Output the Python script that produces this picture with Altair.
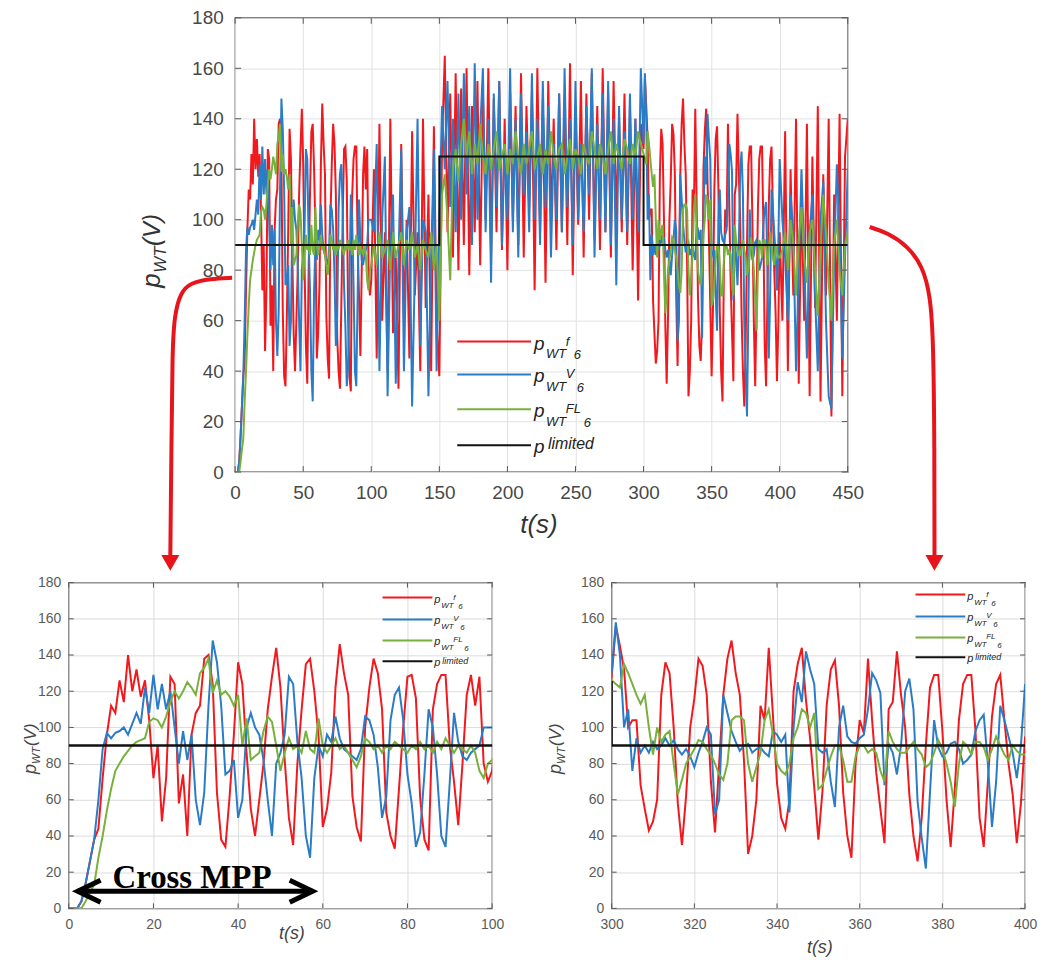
import altair as alt
import pandas as pd

# ---------------- data ----------------
t_seg1 = list(range(0, 101))
red_seg1 = [0, 0, 0, 4, 14, 26, 38, 44, 72, 96,
            112, 108, 126, 114, 140, 120, 132, 117, 126, 104,
            72, 90, 48, 72, 128, 124, 58, 74, 40, 96,
            108, 112, 138, 140, 124, 64, 38, 34, 62, 96,
            136, 124, 86, 55, 40, 60, 80, 110, 128, 144,
            122, 82, 50, 35, 80, 110, 135, 138, 120, 95,
            45, 55, 75, 122, 146, 130, 118, 62, 45, 37,
            100, 122, 138, 130, 110, 53, 40, 33, 66, 100,
            128, 129, 116, 61, 38, 32, 110, 124, 129, 129,
            90, 70, 46, 80, 118, 129, 112, 128, 80, 70,
            76]
blue_seg1 = [0, 0, 0, 4, 14, 26, 38, 60, 88, 97,
             94, 97, 98, 100, 96, 102, 108, 102, 122, 108,
             129, 110, 124, 110, 120, 100, 80, 98, 82, 96,
             60, 46, 64, 112, 148, 136, 112, 74, 76, 82,
             50, 60, 100, 108, 100, 96, 82, 60, 40, 80,
             86, 96, 128, 124, 92, 72, 40, 28, 72, 90,
             84, 96, 92, 106, 94, 88, 86, 84, 82, 88,
             106, 104, 96, 78, 50, 62, 104, 118, 122, 104,
             74, 58, 34, 42, 74, 110, 100, 74, 40, 34,
             70, 108, 92, 84, 82, 86, 88, 90, 100, 100,
             100]
green_seg1 = [0, 0, 0, 0, 4, 9, 13, 28, 40, 54,
              66, 76, 80, 84, 87, 90, 92, 93, 94, 103,
              105, 104, 100, 106, 114, 120, 116, 120, 125, 122,
              118, 130, 133, 138, 119, 126, 118, 120, 117, 112,
              118, 90, 105, 82, 84, 86, 98, 106, 103, 90,
              76, 86, 94, 88, 90, 86, 98, 88, 86, 105,
              90, 86, 90, 94, 88, 90, 86, 82, 78, 84,
              94, 92, 88, 90, 86, 90, 88, 92, 90, 88,
              86, 90, 88, 92, 88, 90, 86, 92, 88, 94,
              90, 86, 90, 88, 86, 90, 86, 76, 72, 80,
              82]

t_seg2 = list(range(102, 299, 2))
red_seg2 = [120, 45, 138, 60, 95, 40, 140, 55, 85, 33,
            130, 60, 100, 45, 135, 70, 95, 40, 140, 65,
            110, 40, 137, 60,
            38, 130, 165, 95, 150, 85, 158, 80, 152, 90,
            160, 78, 145, 95, 155, 82, 150, 100, 160, 85,
            148, 95, 155, 88, 140, 80, 150, 100, 145, 90,
            158, 85, 145, 105, 150, 72, 160, 95, 148, 75,
            155, 100, 140, 88, 150, 95, 148, 90, 162, 78,
            145, 98, 155, 85, 150, 100, 158, 92, 145, 88,
            160, 95, 150, 85, 155, 100, 140, 95, 150, 90,
            145, 80, 140, 68, 138]
blue_seg2 = [95, 130, 40, 100, 125, 30, 90, 110, 35, 85,
             128, 40, 95, 105, 26, 80, 140, 50, 100, 95,
             30, 85, 128, 40,
             100, 145, 120, 155, 105, 140, 95, 150, 100, 158,
             110, 145, 90, 162, 100, 135, 160, 95, 140, 75,
             150, 105, 155, 90, 130, 100, 160, 95, 140, 85,
             150, 110, 135, 95, 158, 100, 140, 90, 155, 105,
             145, 85, 130, 100, 150, 95, 160, 105, 140, 90,
             155, 100, 130, 95, 145, 110, 160, 85, 138, 100,
             150, 95, 155, 90, 140, 74, 145, 100, 135, 95,
             150, 100, 140, 95, 160]
green_seg2 = [90, 82, 95, 85, 88, 92, 80, 95, 85, 90,
              95, 82, 92, 88, 95, 85, 90, 80, 92, 88,
              85, 95, 80, 90,
              60, 110, 118, 100, 76, 120, 128, 115, 130, 140,
              125, 135, 118, 130, 122, 138, 125, 118, 130, 120,
              128, 135, 120, 125, 130, 118, 128, 122, 135, 125,
              118, 130, 122, 128, 135, 120, 125, 130, 118, 128,
              122, 135, 125, 120, 128, 130, 118, 125, 132, 120,
              128, 125, 118, 130, 125, 122, 135, 128, 120, 130,
              125, 118, 128, 135, 122, 130, 125, 120, 132, 128,
              122, 130, 125, 135, 130]

t_seg3 = list(range(300, 401))
red_seg3 = [128, 156, 145, 132, 100, 104, 104, 68, 55, 43,
            48, 60, 118, 136, 130, 100, 58, 35, 62, 100,
            116, 138, 134, 118, 70, 42, 80, 118, 138, 148,
            130, 118, 82, 30, 40, 60, 112, 104, 144, 107,
            69, 50, 44, 60, 120, 135, 144, 115, 94, 67,
            38, 65, 112, 132, 137, 112, 64, 40, 28, 80,
            104, 97, 138, 104, 75, 55, 36, 110, 114, 142,
            118, 100, 63, 40, 26, 50, 90, 122, 129, 129,
            98, 60, 34, 66, 104, 124, 129, 129, 98, 50,
            34, 70, 106, 124, 129, 104, 80, 63, 36, 58,
            95]
blue_seg3 = [130, 158, 140, 100, 110, 76, 94, 86, 90, 86,
             92, 88, 90, 94, 90, 93, 88, 85, 88, 84,
             78, 86, 92, 100, 96, 52, 60, 118, 108, 98,
             92, 87, 90, 91, 86, 88, 89, 86, 84, 98,
             96, 92, 96, 53, 100, 125, 114, 142, 132, 124,
             88, 86, 88, 70, 56, 100, 112, 95, 92, 91,
             94, 96, 110, 130, 126, 119, 68, 91, 86, 74,
             90, 120, 127, 110, 59, 39, 22, 64, 104, 89,
             84, 86, 91, 92, 88, 80, 82, 85, 98, 104,
             107, 80, 45, 70, 112, 104, 95, 86, 72, 90,
             124]
green_seg3 = [126, 124, 122, 135, 130, 124, 118, 113, 118, 100,
              85, 100, 92, 96, 98, 80, 63, 71, 80, 84,
              88, 93, 92, 88, 85, 80, 74, 71, 80, 104,
              106, 106, 104, 80, 70, 78, 86, 104, 110, 96,
              80, 76, 74, 80, 94, 100, 110, 108, 100, 108,
              66, 68, 76, 84, 90, 90, 82, 70, 70, 84,
              90, 90, 86, 88, 86, 76, 70, 98, 92, 88,
              86, 86, 89, 92, 88, 85, 78, 80, 86, 93,
              88, 80, 70, 56, 80, 92, 90, 85, 92, 92,
              89, 82, 88, 95, 90, 85, 82, 90, 87, 85,
              85]

t_seg4 = list(range(402, 451, 2))
red_seg4 = [60, 135, 40, 120, 70, 140, 35, 110, 60, 138,
            30, 125, 65, 145, 28, 118, 70, 140, 22, 110,
            60, 142, 30, 125, 140]
blue_seg4 = [100, 85, 60, 110, 95, 40, 80, 120, 85, 45,
             95, 110, 70, 40, 100, 115, 60, 30, 25, 85,
             122, 95, 45, 85, 120]
green_seg4 = [88, 95, 80, 100, 90, 70, 92, 105, 85, 75,
              95, 100, 80, 62, 88, 110, 95, 75, 60, 90,
              100, 80, 70, 90, 95]

limit_t = [0, 150, 150, 300, 300, 450]
limit_v = [90, 90, 125, 125, 90, 90]

y_ticks = [0, 20, 40, 60, 80, 100, 120, 140, 160, 180]
x_ticks_top = [0, 50, 100, 150, 200, 250, 300, 350, 400, 450]
x_ticks_left = [0, 20, 40, 60, 80, 100]
x_ticks_right = [300, 320, 340, 360, 380, 400]

legend_sups = ["f", "V", "FL"]

# annotation paths, in the top panel's data units
arrow_left_t = [-2.2, -18.3, -32.9, -40.2, -44.6, -46.1, -46.8, -47.6]
arrow_left_v = [77.0, 76.6, 75.0, 71.1, 62.0, 48.2, 8.7, -33.0]
arrow_right_t = [466.1, 479.3, 493.9, 504.9, 510.7, 512.9, 513.7, 513.7]
arrow_right_v = [97.1, 94.8, 89.6, 81.7, 69.9, 52.1, 8.7, -33.0]
arrow_head_t = [-47.6, 513.7]
arrow_head_v = [-36.0, -36.0]

# "Cross MPP" annotation, in the bottom-left panel's data units
mpp_t = [2.1, 57.6]
mpp_v = [9.4, 9.4]
mpp_text_t = [29.1]
mpp_text_v = [11.0]
mpp_label = "Cross MPP"

# ---------------- build tables ----------------
rows = []
for ts, rs, bs, gs in [(t_seg1, red_seg1, blue_seg1, green_seg1),
                       (t_seg2, red_seg2, blue_seg2, green_seg2),
                       (t_seg3, red_seg3, blue_seg3, green_seg3),
                       (t_seg4, red_seg4, blue_seg4, green_seg4)]:
    for t, r, b, g in zip(ts, rs, bs, gs):
        rows.append((t, r, b, g))
df = pd.DataFrame(rows, columns=["t", "red", "blue", "green"])
lim = pd.DataFrame({"t": limit_t, "v": limit_v, "i": list(range(len(limit_t)))})
ONE = pd.DataFrame({"k": [0]})

FONT = "Liberation Sans"
RED = "#f2191e"
BLUE = "#2b7cc6"
GREEN = "#78b03c"
BLACK = "#111111"
ARROW = "#e8141b"


def txt(x, y, s, size, dx=0, dy=0, angle=0, align="left", baseline="alphabetic",
        color="#222222", style="italic", font=FONT, weight="normal"):
    kw = dict(text=s, fontSize=size, dx=dx, dy=dy, align=align, baseline=baseline,
              color=color, font=font, fontStyle=style, fontWeight=weight)
    if angle:
        kw["angle"] = angle
    return alt.Chart(ONE).mark_text(**kw).encode(x=alt.value(x), y=alt.value(y))


def panel(x_dom, x_ticks, st, extras=None):
    w, h = st["w"], st["h"]

    def X(f):
        return alt.X(f + ":Q", scale=alt.Scale(domain=x_dom, nice=False, zero=False),
                     axis=alt.Axis(values=x_ticks, title=None, grid=True, gridColor=st["grid"],
                                   gridWidth=1, ticks=False, domain=False, labelFont=FONT,
                                   labelFontSize=st["lab"], labelColor=st["labc"],
                                   labelPadding=st["xpad"], labelFlush=False, format="d"))

    def Y(f):
        return alt.Y(f + ":Q", scale=alt.Scale(domain=[0, 180], nice=False, zero=False),
                     axis=alt.Axis(values=y_ticks, title=None, grid=True, gridColor=st["grid"],
                                   gridWidth=1, ticks=False, domain=False, labelFont=FONT,
                                   labelFontSize=st["lab"], labelColor=st["labc"],
                                   labelPadding=st["ypad"], labelFlush=False, format="d"))

    lo, hi = x_dom
    base = df[(df.t >= lo - 2) & (df.t <= hi + 2)]
    layers = []
    for col, colr in [("red", RED), ("blue", BLUE), ("green", GREEN)]:
        layers.append(alt.Chart(base).mark_line(color=colr, strokeWidth=st["sw"], clip=True)
                      .encode(x=X("t"), y=Y(col)))
    layers.append(alt.Chart(lim).mark_line(color=BLACK, strokeWidth=st["lw"], clip=True)
                  .encode(x=X("t"), y=Y("v"), order="i:Q"))
    # inward ticks on all four sides
    tl = st["tick"]
    xt = pd.DataFrame({"xt": x_ticks})
    yt = pd.DataFrame({"yt": y_ticks})
    layers.append(alt.Chart(xt).mark_rule(color="#555555", strokeWidth=1)
                  .encode(x=X("xt"), y=alt.value(h), y2=alt.value(h - tl)))
    layers.append(alt.Chart(xt).mark_rule(color="#555555", strokeWidth=1)
                  .encode(x=X("xt"), y=alt.value(0), y2=alt.value(tl)))
    layers.append(alt.Chart(yt).mark_rule(color="#555555", strokeWidth=1)
                  .encode(y=Y("yt"), x=alt.value(0), x2=alt.value(tl)))
    layers.append(alt.Chart(yt).mark_rule(color="#555555", strokeWidth=1)
                  .encode(y=Y("yt"), x=alt.value(w), x2=alt.value(w - tl)))

    # legend
    L = st["leg"]
    cols = [RED, BLUE, GREEN, BLACK]
    for i, y in enumerate(L["ys"]):
        layers.append(alt.Chart(ONE).mark_rule(color=cols[i], strokeWidth=L["lw"])
                      .encode(x=alt.value(L["x0"]), x2=alt.value(L["x1"]), y=alt.value(y)))
        xtx = L["xt"]
        layers.append(txt(xtx, y, "p", L["main"], dy=L["p_dy"]))
        if i < 3:
            layers.append(txt(xtx, y, "WT", L["sub"], dx=L["wt_dx"], dy=L["wt_dy"]))
            layers.append(txt(xtx, y, legend_sups[i], L["sub"], dx=L["sup_dx"], dy=L["sup_dy"]))
            layers.append(txt(xtx, y, "6", L["sub"], dx=L["six_dx"][i], dy=L["six_dy"]))
        else:
            layers.append(txt(xtx, y, "limited", L["lim_size"], dx=L["lim_dx"], dy=L["lim_dy"]))

    # axis titles
    T = st["ttl"]
    ax, ay = T["y_anchor"]
    layers.append(txt(ax, ay, "p", T["main"], angle=270, color=T["color"]))
    layers.append(txt(ax, ay, "WT", T["sub"], dx=T["wt_dx"], dy=T["wt_dy"], angle=270, color=T["color"]))
    layers.append(txt(ax, ay, "(V)", T["v_size"], dx=T["v_dx"], angle=270, color=T["color"]))
    tx, ty = T["x_anchor"]
    layers.append(txt(tx, ty, "t(s)", T["main"], align="center", baseline="middle", color=T["color"]))

    if extras is not None:
        layers.extend(extras(X, Y))
    return alt.layer(*layers).properties(width=w, height=h)


def top_extras(X, Y):
    out = []
    for ts, vs in [(arrow_left_t, arrow_left_v), (arrow_right_t, arrow_right_v)]:
        d = pd.DataFrame({"ax": ts, "ay": vs, "i": list(range(len(ts)))})
        out.append(alt.Chart(d).mark_line(color=ARROW, strokeWidth=4, interpolate="basis", clip=False)
                   .encode(x=X("ax"), y=Y("ay"), order="i:Q"))
    hd = pd.DataFrame({"ax": arrow_head_t, "ay": arrow_head_v})
    out.append(alt.Chart(hd).mark_point(shape="triangle-down", filled=True, size=330, color=ARROW,
                                        opacity=1, clip=False)
               .encode(x=X("ax"), y=Y("ay")))
    return out


def left_extras(X, Y):
    out = []
    d = pd.DataFrame({"mt": mpp_t, "mv": mpp_v})
    out.append(alt.Chart(d).mark_line(color="black", strokeWidth=5, clip=False)
               .encode(x=X("mt"), y=Y("mv")))
    dl = pd.DataFrame({"mt": mpp_t[:1], "mv": mpp_v[:1]})
    dr = pd.DataFrame({"mt": mpp_t[1:], "mv": mpp_v[1:]})
    out.append(alt.Chart(dl).mark_point(shape="M 1 -0.48 L 0 0 L 1 0.48", filled=False, size=2116,
                                        color="black", strokeWidth=5, opacity=1, clip=False)
               .encode(x=X("mt"), y=Y("mv")))
    out.append(alt.Chart(dr).mark_point(shape="M -1 -0.48 L 0 0 L -1 0.48", filled=False, size=2116,
                                        color="black", strokeWidth=5, opacity=1, clip=False)
               .encode(x=X("mt"), y=Y("mv")))
    dt = pd.DataFrame({"mt": mpp_text_t, "mv": mpp_text_v, "lab": [mpp_label]})
    out.append(alt.Chart(dt).mark_text(font="Liberation Serif", fontWeight="bold", fontSize=33,
                                       align="center", baseline="alphabetic", color="black", clip=False)
               .encode(x=X("mt"), y=Y("mv"), text="lab:N"))
    return out


TOP = dict(w=615, h=456, lab=19, labc="#484848", grid="#e2e2e2", xpad=12, ypad=12,
           sw=2.0, lw=2.0, tick=6,
           leg=dict(ys=[325, 358, 393, 429], x0=223, x1=297, xt=300, lw=2, main=19, sub=13,
                    p_dy=8, wt_dx=12, wt_dy=17, sup_dx=32, sup_dy=4, six_dx=[40, 43, 50],
                    six_dy=18, lim_dx=14, lim_dy=4, lim_size=16),
           ttl=dict(y_anchor=(-75, 271), main=26, sub=17, wt_dx=15, wt_dy=6, v_size=24, v_dx=42,
                    x_anchor=(305, 509), color="#333333"))
BL = dict(w=425, h=327, lab=14, labc="#5a5a5a", grid="#dcdcdc", xpad=9, ypad=8,
          sw=2.0, lw=2.4, tick=5,
          leg=dict(ys=[15, 37, 58, 79], x0=315, x1=365, xt=367, lw=2, main=11, sub=8,
                   p_dy=5, wt_dx=7, wt_dy=10, sup_dx=19, sup_dy=2, six_dx=[24, 26, 30],
                   six_dy=11, lim_dx=8, lim_dy=3, lim_size=9),
          ttl=dict(y_anchor=(-33, 192), main=18, sub=11, wt_dx=10, wt_dy=4, v_size=17, v_dx=28,
                   x_anchor=(224, 353), color="#444444"))
BR = dict(w=415, h=327, lab=14, labc="#5a5a5a", grid="#dcdcdc", xpad=9, ypad=8,
          sw=2.0, lw=2.4, tick=5,
          leg=dict(ys=[12, 34, 55, 75], x0=305, x1=355, xt=357, lw=2, main=11, sub=8,
                   p_dy=5, wt_dx=7, wt_dy=10, sup_dx=19, sup_dy=2, six_dx=[24, 26, 30],
                   six_dy=11, lim_dx=8, lim_dy=3, lim_size=9),
          ttl=dict(y_anchor=(-51, 192), main=18, sub=11, wt_dx=10, wt_dy=4, v_size=17, v_dx=28,
                   x_anchor=(209, 367), color="#444444"))

top = panel([0, 450], x_ticks_top, TOP, top_extras)
left = panel([0, 100], x_ticks_left, BL, left_extras)
right = panel([300, 400], x_ticks_right, BR)

# invisible spacer shifts the top panel to the right of the bottom-left panel
spacer = (alt.Chart(ONE).mark_point(opacity=0)
          .encode(x=alt.X("k:Q", axis=None), y=alt.Y("k:Q", axis=None))
          .properties(width=1, height=1, view=alt.ViewBackground(stroke="transparent")))

top_row = alt.hconcat(spacer, top, spacing=166, bounds="flush")
bottom_row = alt.hconcat(left, right, spacing=120, bounds="flush")
# with flush bounds a nested row counts as zero height, so the row gap includes the top panel height
chart = (alt.vconcat(top_row, bottom_row, spacing=567, bounds="flush")
         .properties(padding={"left": 13, "top": -2, "right": 5, "bottom": 5})
         .configure_view(stroke="#3a3a3a", strokeWidth=1.3))

chart.save("out.html", embed_options={"renderer": "svg", "actions": False})
